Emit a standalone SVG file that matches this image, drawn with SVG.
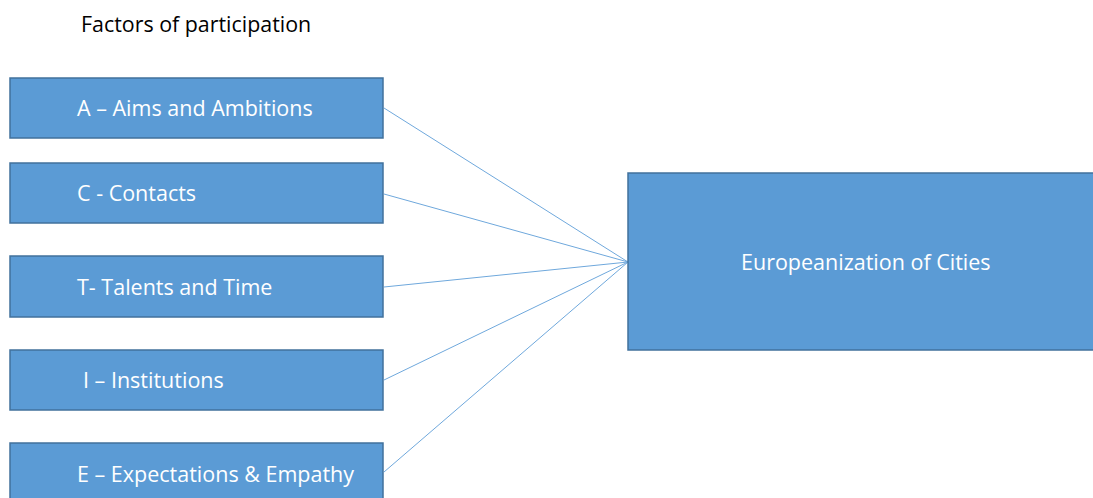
<svg xmlns="http://www.w3.org/2000/svg" width="1093" height="498" viewBox="0 0 1093 498">
<style>
.box{fill:#5B9BD5;stroke:#41719C;stroke-width:1.5}
.lbl{fill:#ffffff;font-family:"Open Sans","Liberation Sans",sans-serif;font-size:21.5px}
.title{fill:#000000;font-family:"Open Sans","Liberation Sans",sans-serif;font-size:21.4px}
.conn{stroke:#6FA8DC;stroke-width:1;fill:none}
</style>
<rect width="1093" height="498" fill="#ffffff"/>
<text class="title" x="81" y="32">Factors of participation</text>
<g id="connectors">
<line class="conn" x1="384" y1="108" x2="628" y2="262"/>
<line class="conn" x1="384" y1="194" x2="628" y2="262"/>
<line class="conn" x1="384" y1="287" x2="628" y2="262"/>
<line class="conn" x1="384" y1="380" x2="628" y2="262"/>
<line class="conn" x1="384" y1="472" x2="628" y2="262"/>
</g>
<g id="node-a"><rect class="box" x="10" y="78" width="373" height="60"/><text class="lbl" x="77" y="116">A – Aims and Ambitions</text></g>
<g id="node-c"><rect class="box" x="10" y="163" width="373" height="60"/><text class="lbl" x="77" y="201">C - Contacts</text></g>
<g id="node-t"><rect class="box" x="10" y="256" width="373" height="61"/><text class="lbl" x="77" y="295">T- Talents and Time</text></g>
<g id="node-i"><rect class="box" x="10" y="350" width="373" height="60"/><text class="lbl" x="83" y="388">I – Institutions</text></g>
<g id="node-e"><rect class="box" x="10" y="443" width="373" height="60"/><text class="lbl" x="77" y="482">E – Expectations &amp; Empathy</text></g>
<g id="node-europe"><rect class="box" x="628" y="173" width="470" height="177"/><text class="lbl" x="741" y="270">Europeanization of Cities</text></g>
</svg>
